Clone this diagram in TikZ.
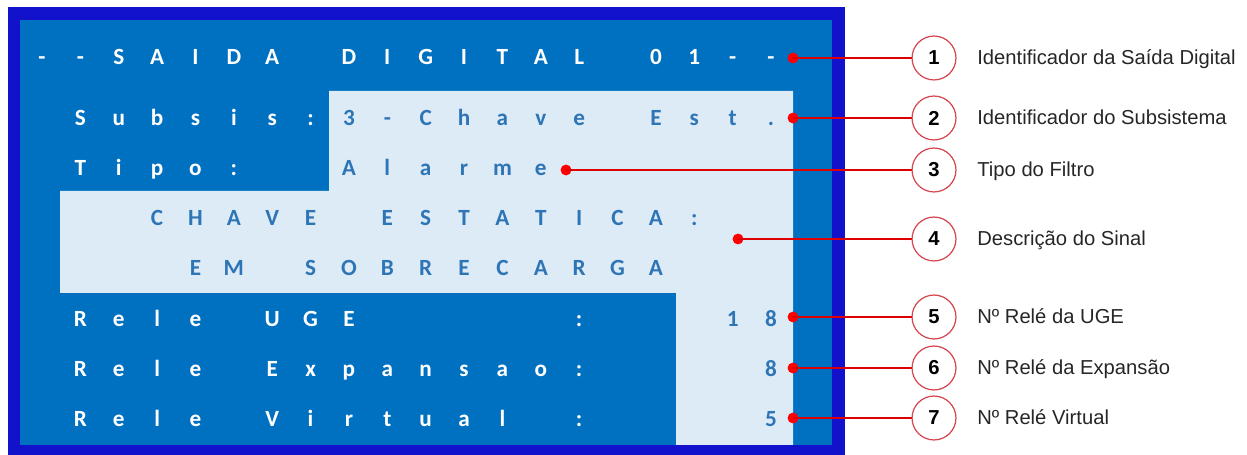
\documentclass[tikz,border=0pt]{standalone}
\usepackage{fontspec}
\setmainfont{Liberation Sans}
\newfontfamily\lcdfont{Carlito}
\definecolor{frameblue}{RGB}{18,18,204}
\definecolor{screenblue}{RGB}{0,112,192}
\definecolor{panelblue}{RGB}{221,235,247}
\definecolor{lcdtext}{RGB}{46,117,182}
\definecolor{leadred}{RGB}{222,0,0}
\definecolor{ringred}{RGB}{214,72,80}

\begin{document}
\begin{tikzpicture}[x=0.02cm,y=-0.02cm,line cap=round,line join=round,
  lcd/.style={anchor=base,inner sep=0pt,font=\lcdfont\bfseries\fontsize{13.2}{16}\selectfont},
  lcdw/.style={lcd,text=white},
  lcdb/.style={lcd,text=lcdtext},
  dot/.style={circle,fill=red,inner sep=0pt,minimum size=6.2pt},
  num/.style={circle,draw=ringred,line width=0.7pt,fill=white,inner sep=0pt,
    minimum size=25pt,font=\bfseries\fontsize{11.5}{14}\selectfont},
  lbl/.style={anchor=base west,inner sep=0pt,text=black!85,font=\fontsize{11.5}{14}\selectfont},
  lead/.style={draw=leadred,line width=1.1pt}]
  \useasboundingbox (0,0) rectangle (1247,455);
  \fill[frameblue] (8,7) rectangle (845,455);
  \fill[screenblue] (20,20) rectangle (832,445);
  \fill[panelblue] (329,91) -- (793,91) -- (793,445) -- (676,445) -- (676,293)
    -- (60,293) -- (60,191) -- (329,191) -- cycle;
  % screen text, one cell per character
  \foreach \c [count=\i from 0] in {-,-,S,A,I,D,A,{},D,I,G,I,T,A,L,{},0,1,-,-}
    \node[lcdw] (tit\i) at ({42+38.37*\i},65) {\c};
  \foreach \c [count=\i from 1] in {S,u,b,s,i,s,:}
    \node[lcdw] (sub\i) at ({42+38.37*\i},126) {\c};
  \foreach \c [count=\i from 8] in {3,-,C,h,a,v,e,{},E,s,t,.}
    \node[lcdb] (subv\i) at ({42+38.37*\i},126) {\c};
  \foreach \c [count=\i from 1] in {T,i,p,o,:}
    \node[lcdw] (tip\i) at ({42+38.37*\i},176) {\c};
  \foreach \c [count=\i from 8] in {A,l,a,r,m,e}
    \node[lcdb] (tipv\i) at ({42+38.37*\i},176) {\c};
  \foreach \c [count=\i from 3] in {C,H,A,V,E,{},E,S,T,A,T,I,C,A,:}
    \node[lcdb] (desa\i) at ({42+38.37*\i},226) {\c};
  \foreach \c [count=\i from 4] in {E,M,{},S,O,B,R,E,C,A,R,G,A}
    \node[lcdb] (desb\i) at ({42+38.37*\i},276) {\c};
  \foreach \c [count=\i from 1] in {R,e,l,e,{},U,G,E,{},{},{},{},{},:}
    \node[lcdw] (uge\i) at ({42+38.37*\i},327) {\c};
  \foreach \c [count=\i from 18] in {1,8}
    \node[lcdb] (ugev\i) at ({42+38.37*\i},327) {\c};
  \foreach \c [count=\i from 1] in {R,e,l,e,{},E,x,p,a,n,s,a,o,:}
    \node[lcdw] (exp\i) at ({42+38.37*\i},377) {\c};
  \node[lcdb] (expv) at ({42+38.37*19},377) {8};
  \foreach \c [count=\i from 1] in {R,e,l,e,{},V,i,r,t,u,a,l,{},:}
    \node[lcdw] (vir\i) at ({42+38.37*\i},427) {\c};
  \node[lcdb] (virv) at ({42+38.37*19},427) {5};
  % callouts
  \node[dot] (d1) at (793,58) {};
  \node[dot] (d2) at (793,118) {};
  \node[dot] (d3) at (566,170) {};
  \node[dot] (d4) at (738,239) {};
  \node[dot] (d5) at (793,317) {};
  \node[dot] (d6) at (793,368) {};
  \node[dot] (d7) at (793,418) {};
  \node[num] (n1) at (934,58) {1};
  \node[num] (n2) at (934,118) {2};
  \node[num] (n3) at (934,170) {3};
  \node[num] (n4) at (934,239) {4};
  \node[num] (n5) at (934,317) {5};
  \node[num] (n6) at (934,368) {6};
  \node[num] (n7) at (934,418) {7};
  \foreach \k in {1,...,7}
    \draw[lead] (d\k.center) -- (n\k);
  \node[lbl] (t1) at (977,65) {Identificador da Saída Digital};
  \node[lbl] (t2) at (977,125) {Identificador do Subsistema};
  \node[lbl] (t3) at (977,177) {Tipo do Filtro};
  \node[lbl] (t4) at (977,246) {Descrição do Sinal};
  \node[lbl] (t5) at (977,324) {Nº Relé da UGE};
  \node[lbl] (t6) at (977,375) {Nº Relé da Expansão};
  \node[lbl] (t7) at (977,425) {Nº Relé Virtual};
\end{tikzpicture}
\end{document}
